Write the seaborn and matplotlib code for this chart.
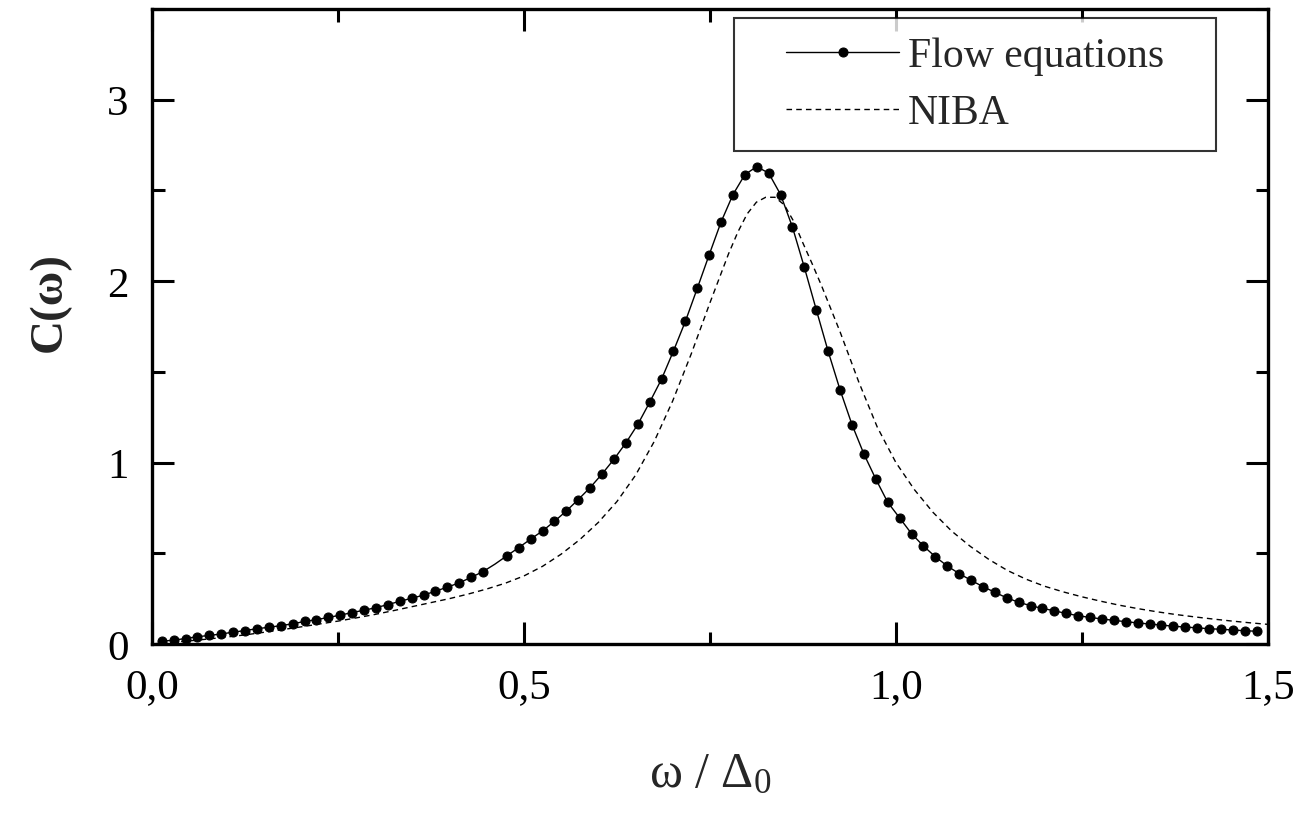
import numpy as np
import pandas as pd
import matplotlib
matplotlib.use("Agg")
import matplotlib.pyplot as plt
import seaborn as sns
from matplotlib.path import Path
from matplotlib.ticker import FixedLocator, MultipleLocator

# Flow equations (dots)
omega_flow = [0.013, 0.029, 0.045, 0.061, 0.077, 0.093, 0.109, 0.125, 0.141, 0.157,
              0.173, 0.189, 0.205, 0.221, 0.237, 0.253, 0.269, 0.285, 0.301, 0.317,
              0.333, 0.349, 0.365, 0.381, 0.397, 0.413, 0.429, 0.445, 0.461, 0.477,
              0.493, 0.509, 0.525, 0.541, 0.557, 0.573, 0.589, 0.605, 0.621, 0.637,
              0.653, 0.669, 0.685, 0.701, 0.717, 0.733, 0.749, 0.765, 0.781, 0.797,
              0.813, 0.829, 0.845, 0.861, 0.877, 0.893, 0.909, 0.925, 0.941, 0.957,
              0.973, 0.989, 1.005, 1.021, 1.037, 1.053, 1.069, 1.085, 1.101, 1.117,
              1.133, 1.149, 1.165, 1.181, 1.197, 1.213, 1.229, 1.245, 1.261, 1.277,
              1.293, 1.309, 1.325, 1.341, 1.357, 1.373, 1.389, 1.405, 1.421, 1.437,
              1.453, 1.469, 1.485]
c_flow = [0.015, 0.021, 0.030, 0.040, 0.047, 0.055, 0.065, 0.074, 0.084, 0.092,
          0.101, 0.111, 0.124, 0.134, 0.146, 0.159, 0.173, 0.186, 0.200, 0.217,
          0.235, 0.252, 0.269, 0.291, 0.313, 0.337, 0.367, 0.399, 0.440, 0.486,
          0.531, 0.578, 0.623, 0.676, 0.733, 0.796, 0.862, 0.937, 1.018, 1.108,
          1.210, 1.332, 1.460, 1.615, 1.778, 1.960, 2.145, 2.326, 2.477, 2.587,
          2.631, 2.595, 2.477, 2.297, 2.075, 1.842, 1.612, 1.400, 1.209, 1.047,
          0.909, 0.781, 0.695, 0.608, 0.540, 0.481, 0.430, 0.388, 0.351, 0.316,
          0.285, 0.254, 0.230, 0.211, 0.196, 0.183, 0.168, 0.156, 0.146, 0.138,
          0.130, 0.123, 0.116, 0.110, 0.104, 0.098, 0.093, 0.089, 0.084, 0.081,
          0.077, 0.073, 0.070]

# NIBA (dashed)
omega_niba = [0.000, 0.025, 0.050, 0.075, 0.100, 0.125, 0.150, 0.175, 0.200, 0.225,
              0.250, 0.275, 0.300, 0.325, 0.350, 0.375, 0.400, 0.425, 0.450, 0.475,
              0.500, 0.525, 0.550, 0.575, 0.600, 0.625, 0.650, 0.675, 0.700, 0.725,
              0.750, 0.775, 0.7875, 0.800, 0.8125, 0.825, 0.8375, 0.850, 0.8625, 0.875,
              0.8875, 0.900, 0.925, 0.950, 0.975,
              1.000, 1.025, 1.050, 1.075, 1.100, 1.125, 1.150, 1.175, 1.200, 1.225,
              1.250, 1.275, 1.300, 1.325, 1.350, 1.375, 1.400, 1.425, 1.450, 1.475,
              1.500]
c_niba = [0.000, 0.008, 0.017, 0.027, 0.038, 0.050, 0.064, 0.079, 0.094, 0.110,
          0.126, 0.144, 0.163, 0.184, 0.206, 0.228, 0.250, 0.275, 0.303, 0.335,
          0.375, 0.428, 0.495, 0.575, 0.670, 0.785, 0.930, 1.115, 1.340, 1.600,
          1.880, 2.150, 2.270, 2.370, 2.435, 2.462, 2.462, 2.420, 2.330, 2.210,
          2.095, 1.975, 1.720, 1.445, 1.195,
          1.000, 0.850, 0.725, 0.622, 0.538, 0.466, 0.405, 0.357, 0.318, 0.287,
          0.260, 0.236, 0.214, 0.195, 0.178, 0.163, 0.150, 0.138, 0.127, 0.117,
          0.108]

x_ticks = [0.0, 0.5, 1.0, 1.5]
x_ticklabels = ["0,0", "0,5", "1,0", "1,5"]
y_ticks = [0, 1, 2, 3]
y_ticklabels = ["0", "1", "2", "3"]

df_flow = pd.DataFrame({"omega": omega_flow, "C": c_flow})
df_niba = pd.DataFrame({"omega": omega_niba, "C": c_niba})

sns.set_theme(style="ticks")
plt.rcParams["font.family"] = ["Liberation Serif", "DejaVu Serif"]
plt.rcParams["mathtext.fontset"] = "custom"
plt.rcParams["mathtext.rm"] = "Liberation Serif"
plt.rcParams["mathtext.it"] = "Liberation Serif:italic"

fig = plt.figure(figsize=(13.05, 8.29), dpi=100)
ax = fig.add_axes([0.1165, 0.222, 0.855, 0.766])

# one dot is missing in the original around omega=0.46
marks = [i for i in range(len(omega_flow)) if i != 28]
sns.lineplot(ax=ax, data=df_flow, x="omega", y="C", color="black", linewidth=1.0,
             marker="o", markersize=6.5, markeredgecolor="black", markevery=marks,
             sort=False, errorbar=None, label="Flow equations")
sns.lineplot(ax=ax, data=df_niba, x="omega", y="C", color="black", linewidth=1.0,
             linestyle=(0, (4, 3)), sort=False, errorbar=None, label="NIBA")

ax.set_xlim(0, 1.5)
ax.set_ylim(0, 3.5)
ax.xaxis.set_major_locator(FixedLocator(x_ticks))
ax.set_xticklabels(x_ticklabels)
ax.xaxis.set_minor_locator(MultipleLocator(0.25))
ax.yaxis.set_major_locator(FixedLocator(y_ticks))
ax.set_yticklabels(y_ticklabels)
ax.yaxis.set_minor_locator(MultipleLocator(0.5))

ax.tick_params(which="both", direction="in", top=True, right=True, width=2.2,
               labelsize=31, pad=17, color="black", labelcolor="black")
ax.tick_params(which="major", length=16)
ax.tick_params(which="minor", length=9)
for sp in ax.spines.values():
    sp.set_linewidth(2.4)
    sp.set_color("black")

ax.set_xlabel(r"ω / Δ$_0$", fontsize=36, labelpad=32)
ax.set_ylabel("C(ω)", fontsize=34, fontweight="bold")
ax.yaxis.set_label_coords(-0.073, 0.54)

leg = ax.legend(loc="upper right", bbox_to_anchor=(0.924, 0.986), borderaxespad=0,
                fontsize=30, handlelength=2.7, handletextpad=0.22, borderpad=0.45,
                labelspacing=0.45, fancybox=False, frameon=True, edgecolor="black")
leg.get_frame().set_linewidth(1.5)


# legend frame: more room left and right than above and below
def wide_box(x0, y0, width, height, mutation_size):
    dx = 0.8 * mutation_size
    return Path([(x0 - dx, y0), (x0 + width + dx, y0), (x0 + width + dx, y0 + height),
                 (x0 - dx, y0 + height), (x0 - dx, y0)], closed=True)


leg.get_frame().set_boxstyle(wide_box)

fig.savefig("out.png", dpi=100)
